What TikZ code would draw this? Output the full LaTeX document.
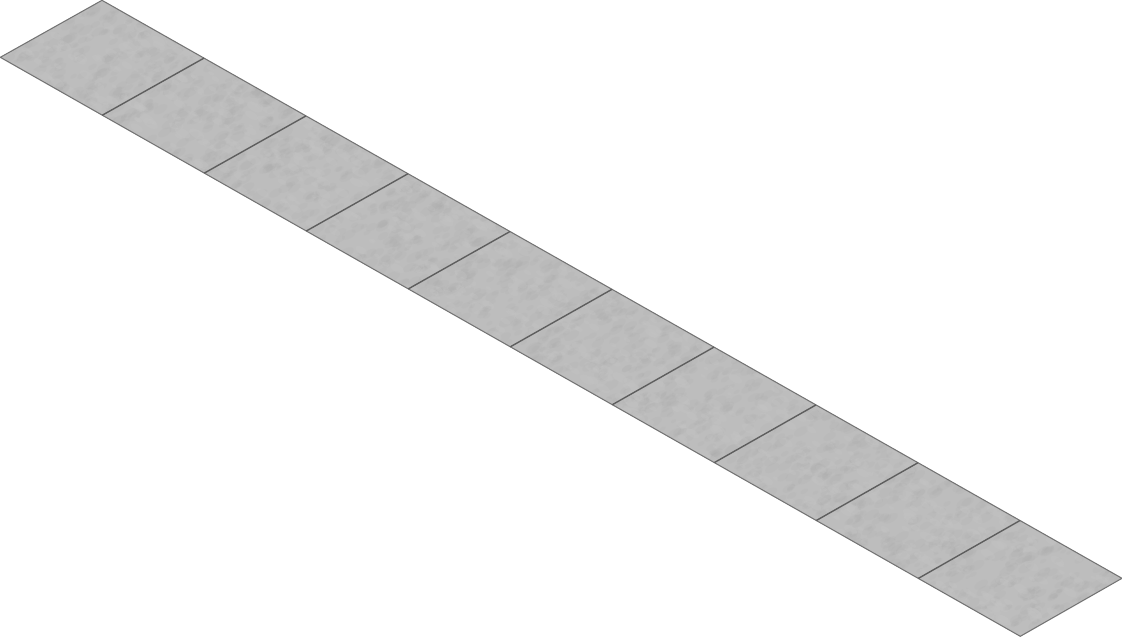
\documentclass[tikz,border=0pt]{standalone}
\usepackage{xcolor}
\usetikzlibrary{calc}
\definecolor{slab}{HTML}{BDBDBD}
\definecolor{blot}{HTML}{A6A6A6}
\definecolor{lite}{HTML}{C8C8C8}
\definecolor{edge}{HTML}{747474}
\definecolor{seam}{HTML}{5E5E5E}
\pgfmathsetseed{17}
\begin{document}
\begin{tikzpicture}[x=0.75pt,y=-0.75pt,
 tile/.style={fill=slab,draw=none},
 rim/.style={draw=edge,line width=0.8pt,line join=round},
 joint/.style={draw=seam,line width=1.05pt},
 stain/.style={fill=blot,opacity=0.13,draw=none},
 glow/.style={fill=lite,opacity=0.22,draw=none}]
\useasboundingbox (0,0) rectangle (1122,637);
% corners along both long edges
\foreach \i in {0,...,10}{
  \coordinate (n\i) at ({102+102*\i},{0.3+57.8*\i});
  \coordinate (s\i) at ({0.3+102*\i},{57.3+57.9*\i});
}
% slabs with mottled surface
\foreach \i [count=\j from 1] in {0,...,9}{
  \fill[tile] (n\i)--(n\j)--(s\j)--(s\i)--cycle;
  \begin{scope}
    \clip (n\i)--(n\j)--(s\j)--(s\i)--cycle;
    \foreach \k in {1,...,170}{
      \pgfmathsetmacro{\bu}{rnd}
      \pgfmathsetmacro{\bv}{rnd}
      \pgfmathsetmacro{\br}{2.5+6*rnd}
      \path[stain] ($(s\i)!\bu!(s\j)!\bv!($(n\i)!\bu!(n\j)$)$) ellipse[x radius=\br,y radius=0.5*\br,rotate=30];
    }
    \foreach \k in {1,...,70}{
      \pgfmathsetmacro{\bu}{rnd}
      \pgfmathsetmacro{\bv}{rnd}
      \pgfmathsetmacro{\br}{2.5+6*rnd}
      \path[glow] ($(s\i)!\bu!(s\j)!\bv!($(n\i)!\bu!(n\j)$)$) ellipse[x radius=\br,y radius=0.5*\br,rotate=-30];
    }
  \end{scope}
}
% outline and joints
\draw[rim] (n0)--(n10)--(s10)--(s0)--cycle;
\foreach \i in {1,...,9}{
  \draw[joint] (s\i)--(n\i);
}
\end{tikzpicture}
\end{document}
